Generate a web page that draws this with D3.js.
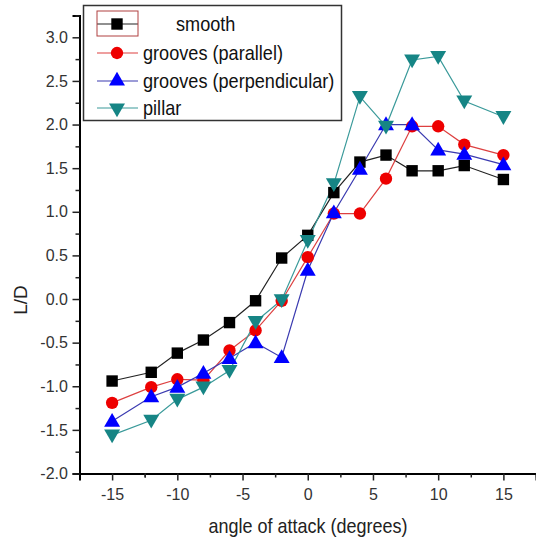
<!DOCTYPE html>
<html>
<head>
<meta charset="utf-8">
<script src="https://cdn.jsdelivr.net/npm/d3@7"></script>
<style>
  body { margin: 0; background: #fff; }
  text { font-family: "Liberation Sans", Arial, sans-serif; }
</style>
</head>
<body>
<div id="chart"></div>
<script>
const angles = [-15, -12, -10, -8, -6, -4, -2, 0, 2, 4, 6, 8, 10, 12, 15];
const smooth = [-0.94, -0.84, -0.62, -0.47, -0.27, -0.02, 0.47, 0.73, 1.22, 1.57, 1.65, 1.47, 1.47, 1.53, 1.37];
const groovesParallel = [-1.19, -1.01, -0.92, -0.93, -0.59, -0.36, -0.02, 0.48, 0.98, 0.98, 1.38, 1.98, 1.98, 1.77, 1.65];
const groovesPerp = [-1.40, -1.12, -1.01, -0.85, -0.68, -0.50, -0.67, 0.33, 0.99, 1.49, 2.0, 2.0, 1.71, 1.66, 1.54];
const pillar = [-1.56, -1.39, -1.15, -1.01, -0.82, -0.26, -0.01, 0.67, 1.32, 2.32, 1.98, 2.74, 2.78, 2.27, 2.09];
const seriesNames = ["smooth", "grooves (parallel)", "grooves (perpendicular)", "pillar"];
const xTicks = [-15, -10, -5, 0, 5, 10, 15];
const yTicks = [-2.0, -1.5, -1.0, -0.5, 0.0, 0.5, 1.0, 1.5, 2.0, 2.5, 3.0];

const width = 536, height = 548;
const svg = d3.select("#chart").append("svg")
  .attr("width", width).attr("height", height);

const x = d3.scaleLinear().domain([-17.5, 17.5]).range([79.5, 536]);
const y = d3.scaleLinear().domain([-2, 3.25]).range([473.5, 15.5]);

const series = [
  { name: seriesNames[0], values: smooth, fill: "#000", line: "#222", shape: d3.symbolSquare, size: 130, rot: 0 },
  { name: seriesNames[1], values: groovesParallel, fill: "#ee0000", line: "#dd4040", shape: d3.symbolCircle, size: 120, rot: 0 },
  { name: seriesNames[2], values: groovesPerp, fill: "#0000ff", line: "#3a3ab0", shape: d3.symbolTriangle, size: 110, rot: 0 },
  { name: seriesNames[3], values: pillar, fill: "#168585", line: "#3a9a9a", shape: d3.symbolTriangle, size: 110, rot: 180 }
];

// axes
const xAxis = svg.append("g").attr("transform", `translate(0,${y(-2)})`);
xAxis.call(d3.axisBottom(x).tickValues(xTicks).tickSize(7).tickFormat(d3.format("d")));
const xMinor = svg.append("g").attr("transform", `translate(0,${y(-2)})`);
xMinor.call(d3.axisBottom(x).tickValues(xTicks.map(v => v + 2.5).concat([-17.5 + 5])).tickSize(4).tickFormat(""));

const yAxis = svg.append("g").attr("transform", `translate(${x(-17.5)},0)`);
yAxis.call(d3.axisLeft(y).tickValues(yTicks).tickSize(7).tickFormat(d3.format(".1f")));
const yMinor = svg.append("g").attr("transform", `translate(${x(-17.5)},0)`);
yMinor.call(d3.axisLeft(y).tickValues(yTicks.map(v => v + 0.25)).tickSize(4).tickFormat(""));

svg.selectAll(".domain").attr("stroke", "#000").attr("stroke-width", 2);
svg.selectAll(".tick line").attr("stroke", "#222").attr("stroke-width", 1.5);
xAxis.selectAll(".tick text").attr("font-size", 16).attr("fill", "#333").attr("dy", "1.05em")
  .text(d => d < 0 ? "-" + Math.abs(d) : d);
yAxis.selectAll(".tick text").attr("font-size", 16).attr("fill", "#333").attr("dx", "-0.1em")
  .text(d => (d < 0 ? "-" : "") + Math.abs(d).toFixed(1));
xMinor.select(".domain").remove();
yMinor.select(".domain").remove();

// titles
svg.append("text").attr("transform", "translate(308,533) scale(0.9,1)").attr("text-anchor", "middle")
  .attr("font-size", 20).attr("fill", "#222").text("angle of attack (degrees)");
svg.append("text").attr("transform", "translate(27,300) rotate(-90)").attr("text-anchor", "middle")
  .attr("font-size", 19).attr("fill", "#222").text("L/D");

// series
const line = d3.line().x((d, i) => x(angles[i])).y(d => y(d));
series.forEach(s => {
  svg.append("path").datum(s.values).attr("d", line)
    .attr("fill", "none").attr("stroke", s.line).attr("stroke-width", 1.2);
});
series.forEach(s => {
  svg.selectAll(null).data(s.values).enter().append("path")
    .attr("d", d3.symbol().type(s.shape).size(s.size))
    .attr("transform", (d, i) => `translate(${x(angles[i])},${y(d) + (s.rot ? -1 : s.shape === d3.symbolTriangle ? 1 : 0)}) rotate(${s.rot})`)
    .attr("fill", s.fill);
});

// legend
const lg = svg.append("g");
lg.append("rect").attr("x", 83.5).attr("y", 5.5).attr("width", 258).attr("height", 115)
  .attr("fill", "#fff").attr("stroke", "#333").attr("stroke-width", 1.5);
const rowY = [24, 53, 81, 108];
series.forEach((s, i) => {
  const yy = rowY[i];
  lg.append("line").attr("x1", 97).attr("x2", 138).attr("y1", yy).attr("y2", yy)
    .attr("stroke", s.line).attr("stroke-width", 1.2);
  lg.append("path").attr("d", d3.symbol().type(s.shape).size(s.size))
    .attr("transform", `translate(117,${yy}) rotate(${s.rot})`).attr("fill", s.fill);
  lg.append("text").attr("transform", `translate(${i === 0 ? 176 : 143},${yy}) scale(0.93,1)`).attr("dy", "0.35em")
    .attr("font-size", 19.5).attr("fill", "#111").text(s.name);
});
lg.append("rect").attr("x", 97).attr("y", 11).attr("width", 41).attr("height", 25)
  .attr("fill", "none").attr("stroke", "#b04040").attr("stroke-width", 1);
</script>
</body>
</html>
